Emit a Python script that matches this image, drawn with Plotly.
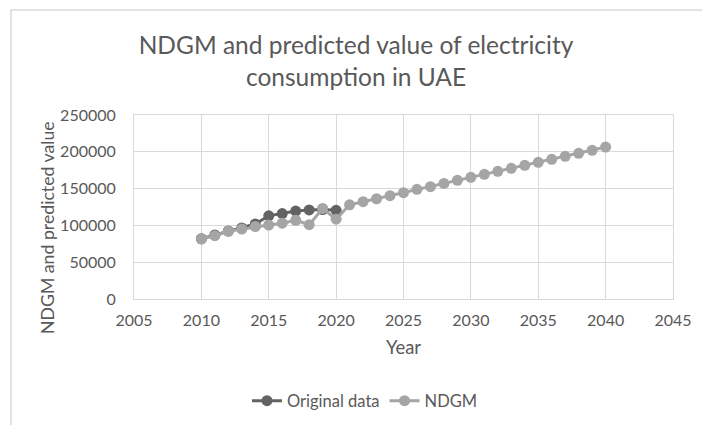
import plotly.graph_objects as go

# Data
orig_years = [2010, 2011, 2012, 2013, 2014, 2015, 2016, 2017, 2018, 2019, 2020]
orig_values = [82000, 87000, 92500, 96500, 102000, 113000, 116000, 119500, 121000, 121500, 120500]

ndgm_years = list(range(2010, 2041))
ndgm_values = [81500, 86000, 92000, 95000, 98500, 100500, 103000, 107000, 101000, 123000,
               108500, 128000, 132200, 136200, 140400, 144400, 149000, 152600, 157000, 161200,
               165300, 169400, 173500, 177600, 181700, 185700, 189800, 193900, 198000, 202000,
               206500]

x_ticks = [2005, 2010, 2015, 2020, 2025, 2030, 2035, 2040, 2045]
y_ticks = [0, 50000, 100000, 150000, 200000, 250000]

FONT = "Lato"
TXT = "#595959"
GRID = "#d9d9d9"

fig = go.Figure()
fig.add_trace(go.Scatter(
    x=orig_years, y=orig_values, name="Original data", mode="lines+markers",
    line=dict(color="#636363", width=3),
    marker=dict(color="#636363", size=11),
))
fig.add_trace(go.Scatter(
    x=ndgm_years, y=ndgm_values, name="NDGM", mode="lines+markers",
    line=dict(color="#a5a5a5", width=3),
    marker=dict(color="#a5a5a5", size=11),
))

# page has an 8px body offset; work in figure coordinates = screen - 8
OFF = 8
W, H = 710 - OFF, 425 - OFF
L, T = 134 - OFF, 115 - OFF
R = W - (673 - OFF)
B = H - (299 - OFF)
pw, ph = W - L - R, H - T - B

def px(x):
    return (x - OFF - L) / pw

def py(y):
    return (H - B - (y - OFF)) / ph

fig.update_layout(
    width=W, height=H,
    margin=dict(l=L, r=R, t=T, b=B, autoexpand=False),
    paper_bgcolor="white", plot_bgcolor="white",
    font=dict(family=FONT, color=TXT),
    title=dict(
        text="NDGM and predicted value of electricity<br>consumption in UAE",
        x=px(356), xref="paper", xanchor="center",
        y=1 - (54 - OFF) / H, yref="container", yanchor="middle",
        font=dict(family=FONT, size=24.5, color=TXT),
    ),
    xaxis=dict(
        range=[2005, 2045], tickvals=x_ticks, showgrid=True, gridcolor=GRID, gridwidth=1,
        zeroline=False, showline=True, linecolor=GRID, linewidth=1, mirror=True,
        tickfont=dict(family=FONT, size=16, color=TXT), ticks="", ticklabelstandoff=7,
        title=dict(text="Year", font=dict(family=FONT, size=18.5, color=TXT), standoff=12),
    ),
    yaxis=dict(
        range=[0, 250000], tickvals=y_ticks, showgrid=True, gridcolor=GRID, gridwidth=1,
        zeroline=False, showline=True, linecolor=GRID, linewidth=1, mirror=True,
        tickfont=dict(family=FONT, size=16, color=TXT), ticks="", ticklabelstandoff=14,
        tickformat="d",
    ),
    annotations=[dict(
        text="NDGM and predicted value", textangle=-90, showarrow=False,
        xref="paper", yref="paper", x=px(47), y=py(228), xanchor="center", yanchor="middle",
        font=dict(family=FONT, size=17.7, color=TXT),
    )],
    legend=dict(
        orientation="h", x=px(365), xanchor="center", y=py(401), yanchor="middle",
        font=dict(family=FONT, size=16.5, color=TXT), bgcolor="rgba(0,0,0,0)",
    ),
    showlegend=True,
    shapes=[dict(
        type="rect", xref="paper", yref="paper",
        x0=px(11), x1=px(900), y0=py(600), y1=py(10),
        line=dict(color="#d9d9d9", width=1.5), fillcolor="rgba(0,0,0,0)", layer="below",
    )],
)

fig.write_html("out.html")
